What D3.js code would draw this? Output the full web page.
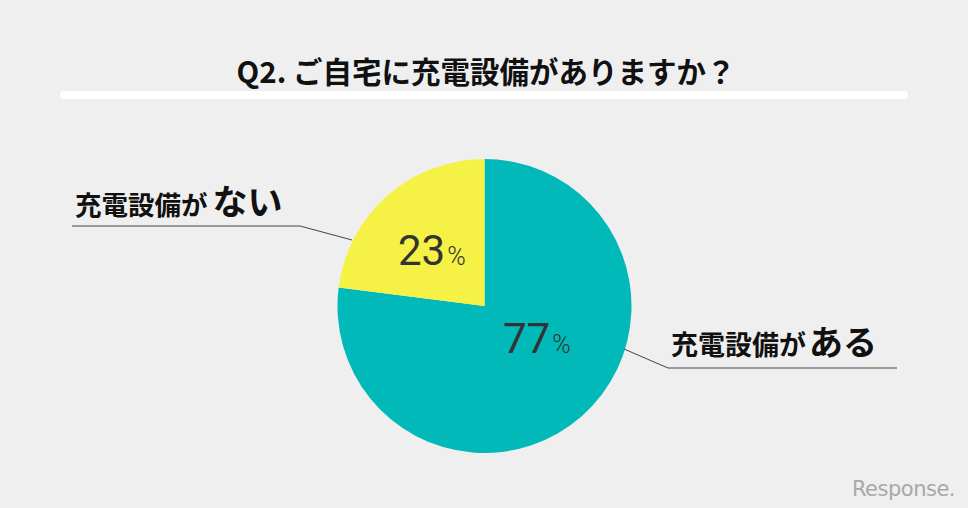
<!DOCTYPE html>
<html><head><meta charset="utf-8">
<script src="https://cdn.jsdelivr.net/npm/d3@7"></script>
<style>html,body{margin:0;padding:0;background:#efefef;}svg{display:block;}</style>
</head><body>
<script>
const categories = ["充電設備がある", "充電設備がない"];
const values = [77, 23];
const colors = ["#00b9b8", "#f6f145"];
const title = "Q2. ご自宅に充電設備がありますか？";

const W = 968, H = 508;
const svg = d3.select("body").append("svg").attr("width", W).attr("height", H);
svg.append("rect").attr("width", W).attr("height", H).attr("fill", "#efefef");

// title
svg.append("text").attr("x", 486).attr("y", 83).attr("text-anchor", "middle")
  .attr("font-family", "Noto Sans CJK JP").attr("font-weight", 700)
  .attr("font-size", 29.5).attr("fill", "#111").text(title);
svg.append("rect").attr("x", 60).attr("y", 91).attr("width", 848).attr("height", 8)
  .attr("rx", 4).attr("fill", "#ffffff");

const cx = 484.5, cy = 306, R = 147;
const g = svg.append("g").attr("transform", `translate(${cx},${cy})`);
const pie = d3.pie().sort(null).value(d => d)(values);
const arc = d3.arc().innerRadius(0).outerRadius(R);
g.selectAll("path").data(pie).enter().append("path")
  .attr("d", arc).attr("fill", (d, i) => colors[i]);

// percent labels
const pctPos = [[503, 353], [398, 265]];
pie.forEach((d, i) => {
  const t = svg.append("text").attr("x", pctPos[i][0]).attr("y", pctPos[i][1])
    .attr("font-family", "Roboto").attr("font-weight", 400).attr("fill", "#333");
  t.append("tspan").attr("font-size", 42).text(values[i]);
  t.append("tspan").attr("font-size", 25).attr("font-weight", 300).attr("dx", 2).text("%");
});

// leader lines
const line = d3.line();
svg.append("path").attr("d", line([[72, 226], [300, 226], [352, 240]]))
  .attr("fill", "none").attr("stroke", "#444").attr("stroke-width", 1);
svg.append("path").attr("d", line([[624, 349], [668, 368], [897, 368]]))
  .attr("fill", "none").attr("stroke", "#444").attr("stroke-width", 1);

// category labels
function label(x, y, s1, s2, f1, f2, gap) {
  const t = svg.append("text").attr("x", x).attr("y", y)
    .attr("font-family", "Noto Sans CJK JP").attr("font-weight", 700).attr("fill", "#111");
  t.append("tspan").attr("font-size", f1).text(s1);
  t.append("tspan").attr("font-size", f2).attr("dx", gap).text(s2);
}
label(75, 215, categories[1].slice(0, 5), categories[1].slice(5), 26.5, 35, 5);
label(671, 355, categories[0].slice(0, 5), categories[0].slice(5), 27, 34, 3);

// watermark
svg.append("text").attr("x", 955).attr("y", 496).attr("text-anchor", "end")
  .attr("font-family", "DejaVu Sans").attr("font-size", 21).attr("fill", "#a8a8a8")
  .attr("letter-spacing", -0.5).text("Response.");
</script>
</body></html>
